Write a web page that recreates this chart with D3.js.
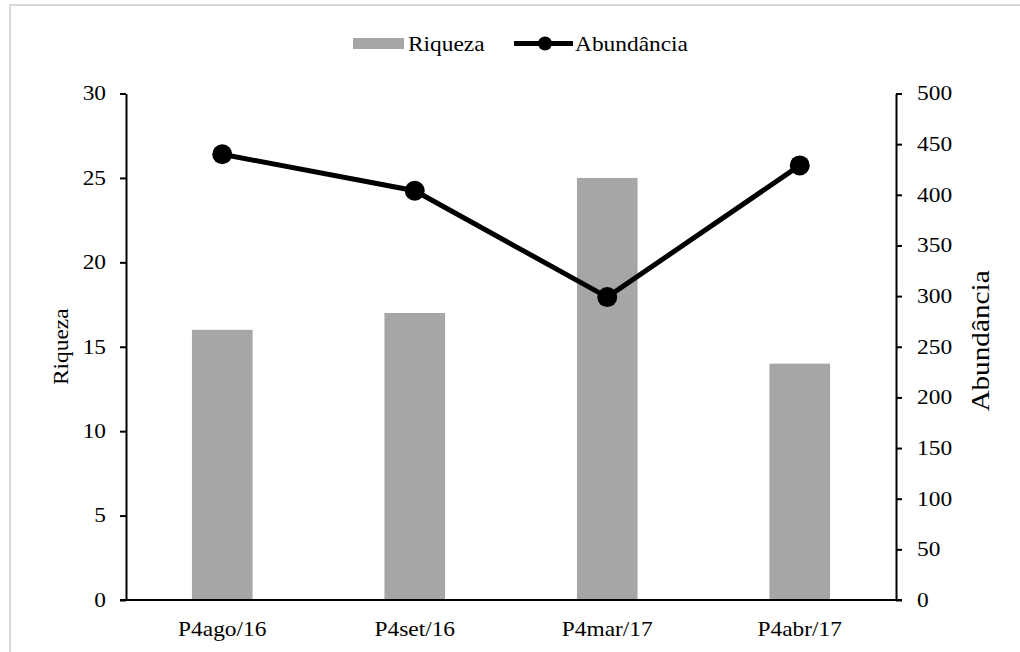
<!DOCTYPE html>
<html>
<head>
<meta charset="utf-8">
<script src="https://cdn.jsdelivr.net/npm/d3@7"></script>
<style>
  body { margin: 0; background: #fff; }
  svg text { font-family: "Liberation Serif", "Times New Roman", serif; fill: #000; }
</style>
</head>
<body>
<div id="chart"></div>
<script>
var categories = ["P4ago/16", "P4set/16", "P4mar/17", "P4abr/17"];
var riqueza = [16, 17, 25, 14];
var abundancia = [440, 404, 299, 429];
var leftTicks = [0, 5, 10, 15, 20, 25, 30];
var rightTicks = [0, 50, 100, 150, 200, 250, 300, 350, 400, 450, 500];

var W = 1020, H = 652;
var margin = {top: 93.5, right: 124, bottom: 52, left: 126};
var width = W - margin.left - margin.right,
    height = H - margin.top - margin.bottom;
var stretch = "scale(1.17,1)";

var svg = d3.select("#chart").append("svg")
    .attr("width", W)
    .attr("height", H);

// light frame
svg.append("path")
    .attr("d", "M10," + H + "V5H" + W)
    .attr("fill", "none")
    .attr("stroke", "#d9d9d9")
    .attr("stroke-width", 2);

var g = svg.append("g")
    .attr("transform", "translate(" + margin.left + "," + margin.top + ")");

var x = d3.scaleBand().domain(categories).range([0, width]).paddingInner(0).paddingOuter(0),
    yL = d3.scaleLinear().domain([0, 30]).range([height, 0]),
    yR = d3.scaleLinear().domain([0, 500]).range([height, 0]);

var barW = x.bandwidth() * 0.315;

g.selectAll(".bar")
    .data(riqueza)
  .enter().append("rect")
    .attr("class", "bar")
    .attr("x", function(d, i) { return x(categories[i]) + x.bandwidth() / 2 - barW / 2; })
    .attr("y", function(d) { return yL(d); })
    .attr("width", barW)
    .attr("height", function(d) { return height - yL(d); })
    .attr("fill", "#a6a6a6");

// axes
var axL = g.append("g")
    .call(d3.axisLeft(yL).tickValues(leftTicks).tickSize(6).tickSizeOuter(0));
var axR = g.append("g")
    .attr("transform", "translate(" + width + ",0)")
    .call(d3.axisRight(yR).tickValues(rightTicks).tickSize(6).tickSizeOuter(0));
var axX = g.append("g")
    .attr("transform", "translate(0," + height + ")")
    .call(d3.axisBottom(x).tickSize(0).tickPadding(22));

[axL, axR, axX].forEach(function(a) {
  a.selectAll("path, line").attr("stroke", "#000").attr("stroke-width", 2);
  a.selectAll("text")
      .style("font-family", "'Liberation Serif', serif")
      .style("font-size", "20px")
      .attr("transform", stretch);
});
axL.selectAll("text").attr("x", -20 / 1.17);
axR.selectAll("text").attr("x", 21 / 1.17);
// x axis line extends under the outer ticks
axX.select(".domain").attr("d", "M-6,0H" + (width + 6));

// abundance line
var line = d3.line()
    .x(function(d, i) { return x(categories[i]) + x.bandwidth() / 2; })
    .y(function(d) { return yR(d); });

g.append("path")
    .datum(abundancia)
    .attr("d", line)
    .attr("fill", "none")
    .attr("stroke", "#000")
    .attr("stroke-width", 5);

g.selectAll(".dot")
    .data(abundancia)
  .enter().append("circle")
    .attr("class", "dot")
    .attr("cx", function(d, i) { return x(categories[i]) + x.bandwidth() / 2; })
    .attr("cy", function(d) { return yR(d); })
    .attr("r", 10)
    .attr("fill", "#000");

// axis titles
svg.append("text")
    .attr("transform", "translate(68," + (margin.top + height / 2) + ") rotate(-90) " + stretch)
    .attr("text-anchor", "middle")
    .style("font-size", "20px")
    .text("Riqueza");
svg.append("text")
    .attr("transform", "translate(989,341) rotate(-90) " + stretch)
    .attr("text-anchor", "middle")
    .style("font-size", "25px")
    .text("Abundância");

// legend
var lg = svg.append("g");
lg.append("rect")
    .attr("x", 353).attr("y", 38).attr("width", 51).attr("height", 11)
    .attr("fill", "#a6a6a6");
lg.append("text")
    .attr("transform", "translate(408,51) " + stretch)
    .style("font-size", "20px")
    .text("Riqueza");
lg.append("line")
    .attr("x1", 514).attr("x2", 573).attr("y1", 43.5).attr("y2", 43.5)
    .attr("stroke", "#000").attr("stroke-width", 5);
lg.append("circle")
    .attr("cx", 545).attr("cy", 43.5).attr("r", 7).attr("fill", "#000");
lg.append("text")
    .attr("transform", "translate(575,51) " + stretch)
    .style("font-size", "20px")
    .text("Abundância");
</script>
</body>
</html>
